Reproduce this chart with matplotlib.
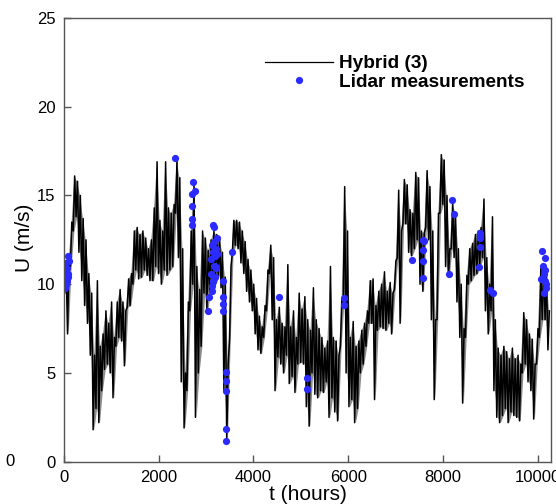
import matplotlib
matplotlib.use('Agg')
import matplotlib.pyplot as plt
import numpy as np

plt.rcParams['font.family'] = ['Liberation Sans', 'DejaVu Sans']

# hybrid (3): low / high of the trace in each 60-hour bin
bin_h = 60
hybrid_lo = [
    9.5, 7.2, 11.0, 13.0, 13.8,     # 0
    11.8, 10.2, 8.8, 7.8, 6.0,      # 300
    1.8, 3.0, 2.2, 4.0, 5.2,        # 600
    5.5, 5.0, 3.6, 6.5, 7.0,        # 900
    6.8, 5.4, 8.7, 8.8, 10.0,       # 1200
    10.8, 10.3, 10.4, 10.8, 10.5,   # 1500
    10.2, 10.2, 11.0, 10.6, 10.0,   # 1800
    10.8, 10.5, 10.8, 11.0, 14.0,   # 2100
    11.5, 4.5, 1.9, 4.0, 8.5,       # 2400
    10.0, 2.5, 5.0, 6.5, 9.5,       # 2700
    8.4, 9.6, 10.0, 10.0, 10.5,     # 3000
    9.8, 4.0, 1.2, 6.9, 11.8,       # 3300
    12.2, 12.0, 11.2, 10.6, 9.6,    # 3600
    9.0, 8.5, 7.2, 6.3, 6.1,        # 3900
    7.0, 8.5, 10.6, 8.0, 4.0,       # 4200
    5.9, 5.5, 5.0, 6.0, 4.4,        # 4500
    4.8, 3.9, 5.5, 5.6, 5.5,        # 4800
    3.1, 2.0, 5.0, 3.8, 3.6,        # 5100
    4.0, 3.9, 4.5, 2.5, 3.6,        # 5400
    2.8, 2.3, 6.5, 9.0, 5.0,        # 5700
    3.1, 3.5, 2.2, 3.0, 5.0,        # 6000
    5.5, 6.5, 7.8, 7.8, 3.5,        # 6300
    7.4, 7.6, 7.5, 7.4, 7.8,        # 6600
    7.2, 9.7, 11.5, 7.8, 13.4,      # 6900
    13.4, 11.8, 11.6, 12.0, 12.5,   # 7200
    10.0, 9.6, 13.2, 12.5, 8.0,     # 7500
    3.5, 8.0, 14.0, 14.5, 11.0,     # 7800
    10.4, 12.0, 11.5, 9.0, 7.0,     # 8100
    3.3, 7.0, 10.0, 10.2, 10.5,     # 8400
    10.6, 11.0, 11.5, 8.5, 7.2,     # 8700
    8.5, 4.0, 2.5, 2.2, 2.6,        # 9000
    3.0, 2.2, 2.8, 2.6, 2.5,        # 9300
    2.3, 5.0, 5.5, 4.5, 4.0,        # 9600
    2.4, 5.5, 7.0, 8.0, 8.0,        # 9900
    6.3,                            # 10200
]
hybrid_hi = [
    11.0, 11.5, 13.5, 16.1, 15.8,
    15.0, 13.7, 12.5, 10.6, 9.5,
    6.0, 10.2, 6.5, 7.2, 8.5,
    7.8, 9.0, 7.0, 9.0, 9.7,
    9.0, 8.5, 10.3, 10.6, 13.0,
    13.2, 12.8, 13.0, 12.6, 12.0,
    12.5, 14.3, 16.9, 13.6, 13.0,
    16.9, 14.3, 14.0, 14.5, 17.0,
    16.0, 12.0, 5.0, 9.0, 13.0,
    15.7, 11.0, 9.7, 13.0, 12.6,
    11.9, 12.5, 13.0, 12.8, 12.6,
    11.8, 10.4, 5.5, 11.0, 13.6,
    13.6, 13.5, 13.0, 12.4, 11.4,
    10.8, 10.0, 9.2, 8.2, 7.6,
    8.8, 10.8, 12.2, 11.5, 8.0,
    8.7, 7.8, 7.6, 11.1, 7.6,
    8.5, 7.0, 9.5, 8.6, 9.3,
    8.0, 7.4, 9.8, 8.0, 7.5,
    7.0, 6.4, 6.8, 11.0, 7.0,
    6.8, 6.0, 9.2, 15.5, 13.0,
    7.0, 7.9, 6.5, 6.8, 7.4,
    7.8, 8.5, 10.2, 10.3, 8.8,
    9.6, 10.0, 10.7, 9.6, 10.1,
    9.5, 11.3, 15.3, 13.0, 15.9,
    15.6, 14.2, 14.0, 16.3, 16.0,
    13.0, 12.9, 16.4, 15.5, 13.0,
    8.0, 14.0, 17.3, 17.0, 15.0,
    12.0, 14.6, 14.0, 12.0, 10.0,
    7.5, 10.5, 12.0, 12.3, 12.8,
    13.0, 13.2, 14.8, 11.5, 10.0,
    13.8, 8.0, 6.4, 6.0, 6.5,
    6.2, 5.8, 6.4, 5.8, 6.0,
    5.5, 8.4, 8.0, 7.2, 6.9,
    5.5, 7.5, 10.9, 11.0, 10.5,
    8.5,
]
bin_start = np.arange(len(hybrid_lo)) * bin_h
hybrid_t = np.column_stack([bin_start + 15, bin_start + 45]).ravel()
hybrid_u = np.column_stack([hybrid_lo, hybrid_hi]).ravel()

# lidar measurements
lidar_t = [20, 40, 10, 60, 80, 90, 70, 30, 50, 100, 85, 15,
           2352,
           2730, 2760, 2712, 2712, 2712, 2712,
           3035, 3063, 3127, 3148, 3160, 3240, 3183, 3100, 3110, 3130,
           3140, 3150, 3170, 3190, 3200, 3210, 3120, 3160, 3180, 3220,
           3360, 3360, 3360, 3360,
           3420, 3420, 3420, 3425, 3430,
           3542, 4534, 5125, 5125, 5905, 5915,
           7343, 7580, 7590, 7580, 7580, 7580,
           8125, 8196, 8230,
           8780, 8790, 8780, 8790, 8770,
           8990, 9048,
           10095, 10152, 10060, 10120, 10140, 10160, 10180, 10130, 10170, 10150]
lidar_u = [11.2, 10.8, 10.5, 10.9, 11.6, 10.6, 10.2, 9.8, 10.0, 11.3, 10.4, 10.9,
           17.1,
           15.74, 15.27, 15.08, 14.4, 13.7, 13.33,
           8.49, 9.3, 9.63, 13.33, 13.24, 12.6, 11.0, 10.6, 11.4, 12.2,
           11.8, 10.2, 12.4, 11.6, 10.9, 12.0, 9.9, 11.0, 10.4, 11.7,
           10.2, 9.3, 8.9, 8.5,
           5.07, 4.55, 4.0, 1.84, 1.18,
           11.8, 9.28, 4.7, 4.08, 9.2, 8.83,
           11.35, 12.5, 12.45, 11.95, 11.3, 10.35,
           10.57, 14.74, 13.97,
           12.9, 12.77, 12.59, 12.11, 10.99,
           9.67, 9.52,
           11.87, 11.5, 10.3, 11.0, 10.6, 10.2, 9.8, 9.5, 10.0, 10.8]

fig = plt.figure(figsize=(5.56, 5.04), dpi=100)
ax = fig.add_axes([64 / 556, 1 - 461.7 / 504, 487 / 556, 443.7 / 504])

# dense hourly trace: shaded band between bin low/high, then the zigzag on top
ax.fill_between(bin_start + 30, hybrid_lo, hybrid_hi, color='black', alpha=0.45, lw=0)
ax.plot(hybrid_t, hybrid_u, color='black', lw=1.1, label='Hybrid (3)')
ax.plot(lidar_t, lidar_u, 'o', color='#2b2bff', ms=5.2, mec='none',
        label='Lidar measurements')

ax.set_xlim(0, 10280)
ax.set_ylim(0, 25)
ax.set_xticks([0, 2000, 4000, 6000, 8000, 10000])
ax.set_yticks([0, 5, 10, 15, 20, 25])
ax.tick_params(direction='in', length=5, width=1, color='#555555',
               labelsize=12, pad=6)
for sp in ax.spines.values():
    sp.set_color('#555555')
    sp.set_linewidth(1)

ax.set_xlabel('t (hours)', fontsize=15, labelpad=0)
ax.set_ylabel('U (m/s)', fontsize=15)
ax.yaxis.set_label_coords(-0.061, 0.505)

leg = ax.legend(loc='upper left', bbox_to_anchor=(0.377, 0.955), frameon=False,
                handlelength=3.6, handletextpad=0.3, labelspacing=0.05,
                numpoints=1, prop={'weight': 'bold', 'size': 13.7})
leg.get_lines()[0].set_linewidth(0.9)

# stray label at the left edge of the original
fig.text(5 / 556, 1 - 462 / 504, '0', fontsize=12, ha='left', va='center')

fig.savefig('out.png', dpi=100)
